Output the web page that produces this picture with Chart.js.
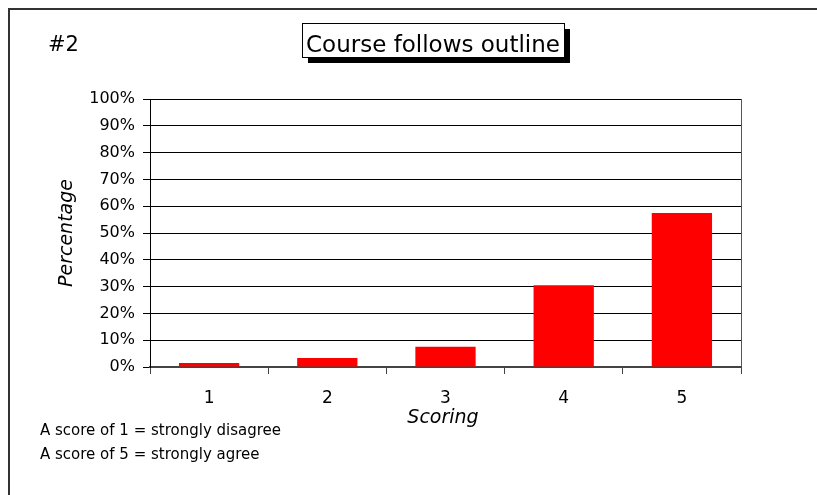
<!DOCTYPE html>
<html lang="en">
<head>
    <meta charset="UTF-8">
    <title>Course follows outline</title>
    <script src="https://cdn.jsdelivr.net/npm/chart.js"></script>
    <style>
        body {
            margin: 0;
            padding: 0;
            background-color: #fff;
        }
        canvas {
            display: block;
        }
    </style>
</head>
<body>
    <canvas id="scoreChart" width="817" height="495"></canvas>

    <script>
        // Chart data
        const scores = ['1', '2', '3', '4', '5'];
        const percentages = [1.5, 3.4, 7.6, 30.5, 57.5];
        const yTicks = [0, 10, 20, 30, 40, 50, 60, 70, 80, 90, 100];

        const chartTitle = 'Course follows outline';
        const chartTag = '#2';
        const xTitle = 'Scoring';
        const yTitle = 'Percentage';
        const notes = ['A score of 1 = strongly disagree', 'A score of 5 = strongly agree'];

        const FONT = '"DejaVu Sans", sans-serif';

        // Frame, title box and notes around the plot
        const decorations = {
            id: 'decorations',
            beforeDraw(chart) {
                const ctx = chart.ctx;
                ctx.save();
                ctx.fillStyle = '#fff';
                ctx.fillRect(0, 0, chart.width, chart.height);
                ctx.strokeStyle = '#333';
                ctx.lineWidth = 2;
                ctx.strokeRect(9, 9, chart.width + 20, chart.height + 20);
                ctx.restore();
            },
            afterDraw(chart) {
                const ctx = chart.ctx;
                const area = chart.chartArea;
                ctx.save();

                // right edge of plot area
                ctx.strokeStyle = '#555';
                ctx.lineWidth = 1;
                ctx.beginPath();
                ctx.moveTo(area.right + 0.5, area.top);
                ctx.lineTo(area.right + 0.5, area.bottom);
                ctx.stroke();

                // tag
                ctx.fillStyle = '#000';
                ctx.font = '21px ' + FONT;
                ctx.textAlign = 'left';
                ctx.textBaseline = 'alphabetic';
                ctx.fillText(chartTag, 48, 51);

                // title box with shadow
                const bx = 302, by = 23, bw = 262, bh = 34;
                ctx.fillStyle = '#000';
                ctx.fillRect(bx + 6, by + 6, bw, bh);
                ctx.fillStyle = '#fff';
                ctx.fillRect(bx, by, bw, bh);
                ctx.strokeStyle = '#000';
                ctx.strokeRect(bx + 0.5, by + 0.5, bw, bh);
                ctx.fillStyle = '#000';
                ctx.font = '23px ' + FONT;
                ctx.textAlign = 'center';
                ctx.fillText(chartTitle, bx + bw / 2, 52);

                // axis titles
                ctx.font = 'italic 19px ' + FONT;
                ctx.fillText(xTitle, 443, 423);
                ctx.save();
                ctx.translate(72, (area.top + area.bottom) / 2);
                ctx.rotate(-Math.PI / 2);
                ctx.fillText(yTitle, 0, 0);
                ctx.restore();

                // notes
                ctx.font = '15px ' + FONT;
                ctx.textAlign = 'left';
                notes.forEach((line, i) => ctx.fillText(line, 40, 435 + i * 24));

                ctx.restore();
            }
        };

        const ctx = document.getElementById('scoreChart').getContext('2d');
        const scoreChart = new Chart(ctx, {
            type: 'bar',
            data: {
                labels: scores,
                datasets: [{
                    label: 'Percentage',
                    data: percentages,
                    backgroundColor: '#ff0000',
                    borderWidth: 0,
                    categoryPercentage: 1,
                    barPercentage: 0.51
                }]
            },
            options: {
                responsive: false,
                animation: false,
                layout: {
                    padding: { top: 99, right: 76, left: 0, bottom: 0 }
                },
                plugins: {
                    legend: { display: false },
                    tooltip: { enabled: false }
                },
                scales: {
                    x: {
                        grid: {
                            offset: true,
                            drawOnChartArea: false,
                            tickLength: 7,
                            color: '#444'
                        },
                        border: { color: '#444', width: 2 },
                        ticks: {
                            color: '#000',
                            font: { family: FONT, size: 17 },
                            padding: 14
                        },
                        afterFit(scale) {
                            scale.height = 128;
                        }
                    },
                    y: {
                        min: 0,
                        max: 100,
                        afterBuildTicks(scale) {
                            scale.ticks = yTicks.map(v => ({ value: v }));
                        },
                        grid: {
                            color: '#000',
                            tickLength: 7
                        },
                        border: { color: '#000', width: 1 },
                        ticks: {
                            color: '#000',
                            font: { family: FONT, size: 16 },
                            padding: 8,
                            callback: v => v + '%'
                        },
                        afterFit(scale) {
                            scale.width = 150;
                        }
                    }
                }
            },
            plugins: [decorations]
        });
    </script>
</body>
</html>
